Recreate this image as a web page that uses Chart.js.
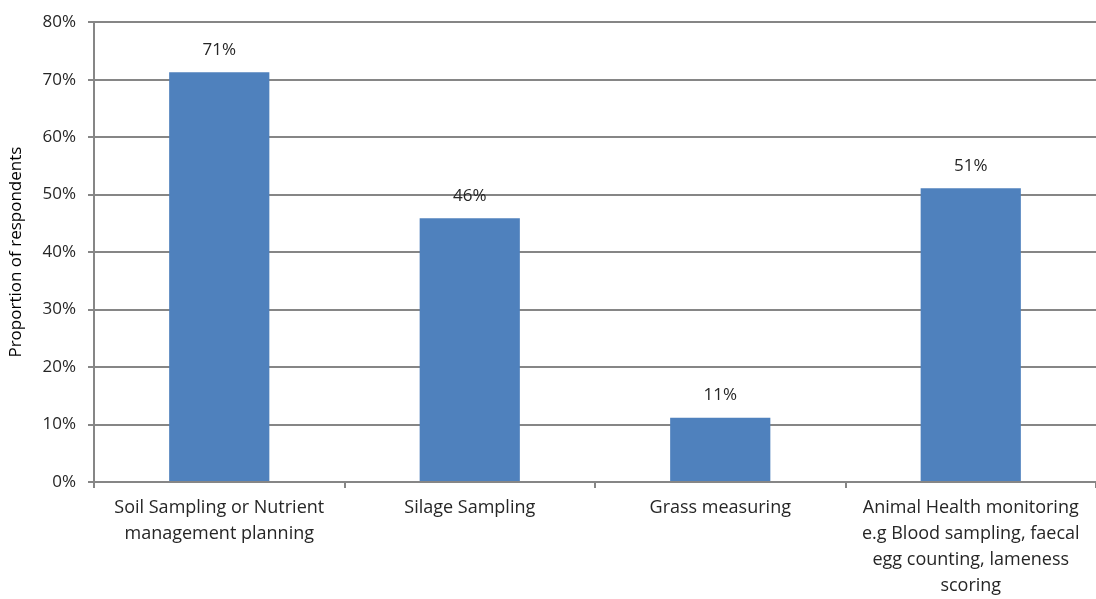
<!DOCTYPE html>
<html lang="en">
<head>
  <meta charset="UTF-8" />
  <title>Proportion of respondents</title>
  <script src="https://cdn.jsdelivr.net/npm/chart.js"></script>
  <style>
    html, body { margin: 0; padding: 0; background: #ffffff; }
    #wrap { width: 1096px; height: 599px; position: relative; }
  </style>
</head>
<body>
  <div id="wrap"><canvas id="chart"></canvas></div>
  <script>
    // data
    const categories = [
      ['Soil Sampling or Nutrient', 'management planning'],
      ['Silage Sampling'],
      ['Grass measuring'],
      ['Animal Health monitoring', 'e.g Blood sampling, faecal', 'egg counting, lameness', 'scoring']
    ];
    const values = [71.3, 45.9, 11.2, 51.1];
    const valueLabels = ['71%', '46%', '11%', '51%'];
    const yTicks = [0, 10, 20, 30, 40, 50, 60, 70, 80];

    const fontFamily = "'Open Sans', 'Liberation Sans', sans-serif";
    const gridColor = '#868686';
    const textColor = '#262626';

    // draws the value above each bar
    const barLabels = {
      id: 'barLabels',
      afterDatasetsDraw(chart) {
        const ctx = chart.ctx;
        const meta = chart.getDatasetMeta(0);
        ctx.save();
        ctx.font = '17px ' + fontFamily;
        ctx.fillStyle = textColor;
        ctx.textAlign = 'center';
        ctx.textBaseline = 'middle';
        meta.data.forEach((bar, i) => {
          ctx.fillText(valueLabels[i], bar.x, bar.y - 22);
        });
        ctx.restore();
      }
    };

    new Chart(document.getElementById('chart'), {
      type: 'bar',
      data: {
        labels: categories,
        datasets: [{
          data: values,
          backgroundColor: '#4F81BD',
          categoryPercentage: 1,
          barPercentage: 0.4
        }]
      },
      options: {
        responsive: true,
        maintainAspectRatio: false,
        animation: false,
        layout: { padding: { top: 12, right: 0, left: 0, bottom: 0 } },
        plugins: {
          legend: { display: false },
          tooltip: { enabled: false }
        },
        scales: {
          x: {
            grid: {
              offset: true,
              drawOnChartArea: false,
              color: gridColor,
              tickLength: 6,
              lineWidth: 2
            },
            border: { color: gridColor, width: 2 },
            ticks: {
              color: textColor,
              font: { family: fontFamily, size: 18, lineHeight: 1.45 },
              maxRotation: 0,
              padding: 7
            },
            afterFit(scale) { scale.height = 117; }
          },
          y: {
            min: 0,
            max: 80,
            afterBuildTicks(scale) { scale.ticks = yTicks.map(v => ({ value: v })); },
            grid: { color: gridColor, tickLength: 6, lineWidth: 2 },
            border: { color: gridColor, width: 2 },
            ticks: {
              color: textColor,
              font: { family: fontFamily, size: 17 },
              padding: 12,
              callback: v => v + '%'
            },
            title: {
              display: true,
              text: 'Proportion of respondents',
              color: '#000000',
              font: { family: fontFamily, size: 17 },
              padding: { top: 6, bottom: 4 }
            },
            afterFit(scale) { scale.width = 94; }
          }
        }
      },
      plugins: [barLabels]
    });
  </script>
</body>
</html>
